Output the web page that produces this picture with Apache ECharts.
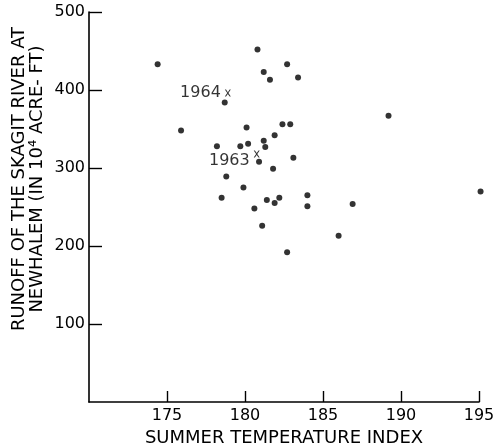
<!DOCTYPE html>
<html>
<head>
<meta charset="utf-8">
<script src="https://cdn.jsdelivr.net/npm/echarts@6/dist/echarts.min.js"></script>
<style>html,body{margin:0;padding:0;background:#fff;}#c{width:496px;height:444px;}</style>
</head>
<body>
<div id="c"></div>
<script>
// Summer temperature index (x) vs runoff (y, 10^4 acre-ft)
const tempIndex = [174.4, 180.8, 182.7, 181.2, 181.6, 183.4, 178.7, 175.9, 180.1, 182.4,
                   182.9, 181.9, 181.2, 181.3, 178.2, 179.7, 180.2, 183.1, 180.9, 181.8,
                   178.8, 179.9, 178.5, 181.4, 181.9, 182.2, 180.6, 181.1, 182.7, 184.0,
                   184.0, 186.9, 186.0, 189.2, 195.1];
const runoff = [433, 452, 433, 423, 413, 416, 384, 348, 352, 356,
                356, 342, 335, 327, 328, 328, 331, 313, 308, 299,
                289, 275, 262, 259, 255, 262, 248, 226, 192, 265,
                251, 254, 213, 367, 270];
const markedYears = ['1964', '1963'];
const markedTemp = [178.9, 180.75];
const markedRunoff = [396, 318];
const xTicks = [170, 175, 180, 185, 190, 195];
const yTicks = [0, 100, 200, 300, 400, 500];

const FONT = 'DejaVu Sans';
const chart = echarts.init(document.getElementById('c'), null, {renderer: 'canvas'});
const pts = tempIndex.map((x, i) => [x, runoff[i]]);
const marks = markedYears.map((n, i) => ({name: n, value: [markedTemp[i], markedRunoff[i]]}));
const xPath = 'path://M0,0 L2,0 L5,3.6 L8,0 L10,0 L6,5 L10,10 L8,10 L5,6.4 L2,10 L0,10 L4,5 Z';

chart.setOption({
  animation: false,
  backgroundColor: '#fff',
  grid: {left: 89, top: 12, width: 390, height: 390, containLabel: false, outerBoundsMode: 'none'},
  xAxis: {
    type: 'value', min: xTicks[0], max: xTicks[xTicks.length - 1], interval: 5,
    name: 'SUMMER TEMPERATURE INDEX', nameLocation: 'middle', nameGap: 26,
    nameTextStyle: {fontFamily: FONT, fontSize: 18, color: '#000'},
    axisLine: {show: true, onZero: false, lineStyle: {color: '#000', width: 1.6}},
    axisTick: {show: true, inside: true, length: 11, lineStyle: {color: '#000', width: 1.4}},
    axisLabel: {showMinLabel: false, fontFamily: FONT, fontSize: 16, color: '#000', margin: 6},
    splitLine: {show: false}
  },
  yAxis: {
    type: 'value', min: yTicks[0], max: yTicks[yTicks.length - 1], interval: 100,
    axisLine: {show: true, onZero: false, lineStyle: {color: '#000', width: 1.6}},
    axisTick: {show: true, inside: true, length: 13, lineStyle: {color: '#000', width: 1.4}},
    axisLabel: {showMinLabel: false, fontFamily: FONT, fontSize: 16, color: '#000', margin: 4},
    splitLine: {show: false}
  },
  graphic: [{
    type: 'text', x: 28, y: 179, rotation: Math.PI / 2,
    style: {
      text: 'RUNOFF OF THE SKAGIT RIVER AT\nNEWHALEM (IN 10⁴ ACRE- FT)',
      font: '18px "' + FONT + '"', fill: '#000', align: 'center', verticalAlign: 'middle', lineHeight: 18
    }
  }],
  series: [{
    type: 'scatter', data: pts, symbol: 'circle', symbolSize: 6, clip: false,
    itemStyle: {color: '#000'}
  }, {
    type: 'scatter', data: marks, symbol: xPath, symbolSize: [6, 7], clip: false,
    itemStyle: {color: '#000'},
    label: {
      show: true, position: 'left', distance: 4, formatter: '{b}',
      fontFamily: FONT, fontSize: 16, color: '#000'
    },
    labelLayout: function (p) {
      return p.dataIndex === 1 ? {dy: 7} : {dy: 0};
    }
  }]
});
</script>
</body>
</html>
